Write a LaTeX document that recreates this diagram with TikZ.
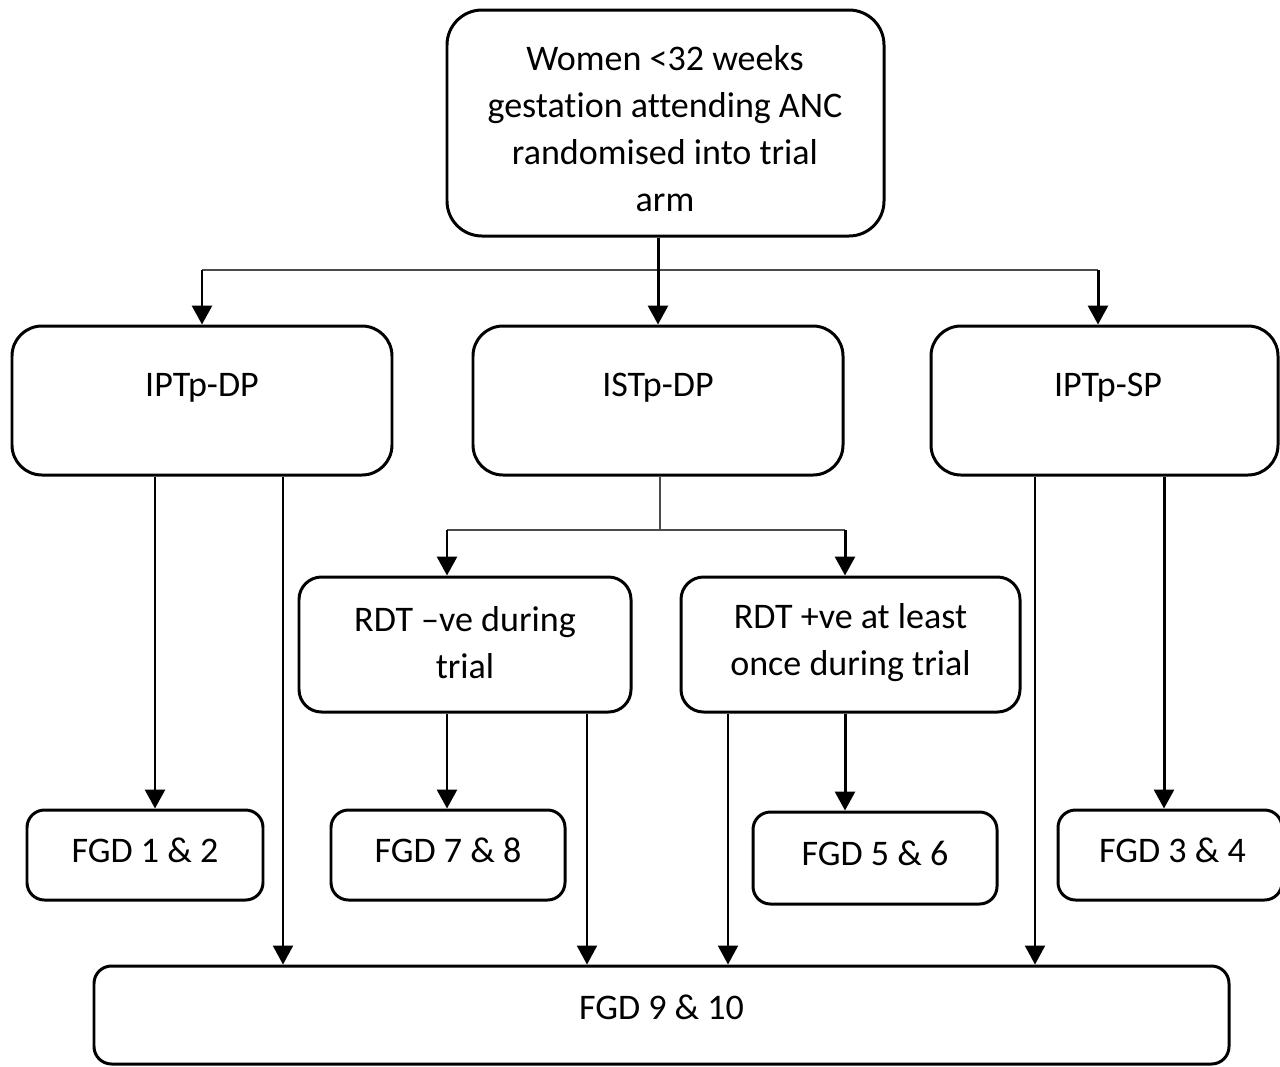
\documentclass[tikz,border=0pt]{standalone}
\usepackage{fontspec}
\setmainfont[Ligatures={NoCommon,NoRare}]{Carlito}
\usetikzlibrary{arrows.meta}
\begin{document}
\begin{tikzpicture}[
  box/.style={draw=black, line width=1.7pt, rounded corners=#1, inner sep=0pt},
  box/.default=0.6cm,
  txt/.style={align=center, font=\fontsize{20.5}{26.8}\selectfont, inner sep=0pt},
  arr/.style={line width=1.7pt, -{Triangle[width=0.4cm,length=0.38cm]}},
  longarr/.style={line width=1.3pt, -{Triangle[width=0.4cm,length=0.38cm]}},
  thin/.style={draw=black!70, line width=0.8pt}
]
\useasboundingbox (0,0) rectangle (25.6,-21.32);
% boxes
\node[box=0.7cm, minimum width=8.74cm, minimum height=4.52cm] (top) at (13.31,-2.46) {};
\node[txt] at (13.3,-2.57) {Women <32 weeks\\gestation attending ANC\\randomised into trial\\arm};
\node[box, minimum width=7.6cm, minimum height=2.98cm] (ipdp) at (4.04,-8.01) {};
\node[txt] at (4.04,-7.76) {IPTp-DP};
\node[box, minimum width=7.4cm, minimum height=2.98cm] (isdp) at (13.16,-8.01) {};
\node[txt] at (13.16,-7.76) {ISTp-DP};
\node[box, minimum width=6.94cm, minimum height=2.98cm] (ipsp) at (22.09,-8.01) {};
\node[txt] at (22.16,-7.76) {IPTp-SP};
\node[box=0.45cm, minimum width=6.64cm, minimum height=2.7cm] (rneg) at (9.3,-12.89) {};
\node[txt] at (9.3,-12.85) {RDT –ve during\\trial};
\node[box=0.45cm, minimum width=6.78cm, minimum height=2.7cm] (rpos) at (17.01,-12.89) {};
\node[txt] at (17.01,-12.85) {RDT +ve at least\\once during trial};
\node[box=0.35cm, minimum width=4.72cm, minimum height=1.8cm] (f12) at (2.9,-17.1) {};
\node[txt] at (2.9,-17.0) {FGD 1 \& 2};
\node[box=0.35cm, minimum width=4.68cm, minimum height=1.8cm] (f78) at (8.96,-17.1) {};
\node[txt] at (8.96,-17.0) {FGD 7 \& 8};
\node[box=0.35cm, minimum width=4.88cm, minimum height=1.84cm] (f56) at (17.5,-17.16) {};
\node[txt] at (17.5,-17.06) {FGD 5 \& 6};
\node[box=0.35cm, minimum width=4.48cm, minimum height=1.8cm] (f34) at (23.4,-17.1) {};
\node[txt] at (23.45,-17.0) {FGD 3 \& 4};
\node[box=0.35cm, minimum width=22.7cm, minimum height=1.96cm] (f910) at (13.23,-20.3) {};
\node[txt] at (13.23,-20.14) {FGD 9 \& 10};
% connector columns
\coordinate (sL) at (4.04,-5.4);
\coordinate (sR) at (21.96,-5.4);
\coordinate (sM) at (13.2,-10.6);
\coordinate (mL) at (8.94,-10.6);
\coordinate (mR) at (16.9,-10.6);
\coordinate (c1) at (3.1,0);
\coordinate (c2) at (5.66,0);
\coordinate (c3) at (8.94,0);
\coordinate (c4) at (11.74,0);
\coordinate (c5) at (14.56,0);
\coordinate (c6) at (16.9,0);
\coordinate (c7) at (20.7,0);
\coordinate (c8) at (23.28,0);
% first split
\draw[thin] (sL) -- (sR);
\draw[arr] (top.south -| isdp.north) -- (isdp.north);
\draw[arr] (sL) -- (sL |- ipdp.north);
\draw[arr] (sR) -- (sR |- ipsp.north);
% ISTp split
\draw[thin] (isdp.south -| sM) -- (sM);
\draw[thin] (mL) -- (mR);
\draw[arr] (mL) -- (mL |- rneg.north);
\draw[arr] (mR) -- (mR |- rpos.north);
% to FGD boxes
\draw[arr] (c1 |- ipdp.south) -- (c1 |- f12.north);
\draw[longarr] (c2 |- ipdp.south) -- (c2 |- f910.north);
\draw[arr] (c3 |- rneg.south) -- (c3 |- f78.north);
\draw[longarr] (c4 |- rneg.south) -- (c4 |- f910.north);
\draw[longarr] (c5 |- rpos.south) -- (c5 |- f910.north);
\draw[arr] (c6 |- rpos.south) -- (c6 |- f56.north);
\draw[longarr] (c7 |- ipsp.south) -- (c7 |- f910.north);
\draw[arr] (c8 |- ipsp.south) -- (c8 |- f34.north);
\end{tikzpicture}
\end{document}
